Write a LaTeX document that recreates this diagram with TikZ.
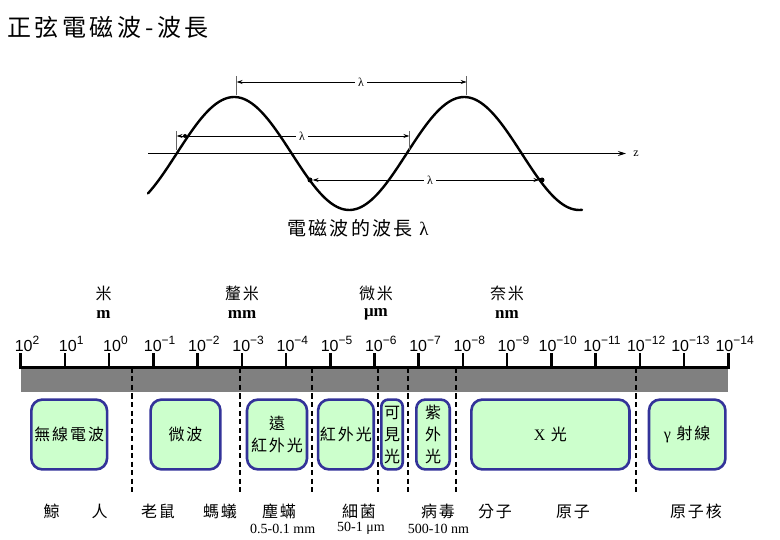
\documentclass[tikz,border=0pt]{standalone}
\usepackage{fontspec}
\setmainfont{Liberation Serif}
\newfontfamily\cjk[LetterSpace=12]{Noto Sans CJK TC}
\newfontfamily\cjktitle[LetterSpace=15]{Noto Sans CJK TC}
\newfontfamily\arial{Liberation Sans}
\usetikzlibrary{arrows.meta}
\definecolor{boxgreen}{RGB}{204,255,204}
\definecolor{boxblue}{RGB}{51,51,153}
\definecolor{bargray}{RGB}{128,128,128}
\tikzset{
  bandbox/.style={draw=boxblue, line width=2.6pt, fill=boxgreen, rounded corners=11pt,
    inner sep=0pt, align=center, minimum height=69.8pt, font=\cjk\fontsize{16}{22}\selectfont},
  dimline/.style={line width=0.7pt, -{Stealth[length=6pt,width=4pt]}},
  dimtick/.style={line width=0.7pt, black!60},
  lam/.style={font=\fontsize{12}{12}\selectfont, inner sep=3pt},
  sep/.style={line width=2.2pt, dash pattern=on 5pt off 3.5pt},
  cjklab/.style={font=\cjk\fontsize{16}{16}\selectfont, inner sep=0pt},
  unitlab/.style={font=\bfseries\fontsize{17}{17}\selectfont, inner sep=0pt},
  sizelab/.style={font=\fontsize{14}{14}\selectfont, inner sep=0pt},
  expo/.style={font=\arial\fontsize{16}{16}\selectfont, inner sep=0pt},
  dot/.style={circle, fill=black, inner sep=0pt, minimum size=5pt}
}
\begin{document}
\begin{tikzpicture}[x=1pt,y=-1pt]
\useasboundingbox (0,0) rectangle (780,540);

% title
\node[anchor=west, inner sep=0pt, font=\cjktitle\fontsize{24}{24}\selectfont] (title) at (7,27) {正弦電磁波-波長};

% wave
\coordinate (ax0) at (148,153.5);
\coordinate (ax1) at (626,153.5);
\draw[line width=1.1pt, -{Stealth[length=8pt,width=5pt]}] (ax0) -- (ax1);
\node[font=\fontsize{12}{12}\selectfont, inner sep=0pt] (zlab) at (636,153.5) {z};
\draw[line width=2.4pt, line cap=round, domain=148:582, samples=160, smooth, variable=\x]
  plot (\x, {153.5-56.5*sin(1.565217*(\x-176.7))});

% top dimension
\coordinate (t1a) at (236.7,76); \coordinate (t1b) at (236.7,95);
\coordinate (t2a) at (466.7,76); \coordinate (t2b) at (466.7,95);
\draw[dimtick] (t1a) -- (t1b);
\draw[dimtick] (t2a) -- (t2b);
\coordinate (d1l) at (236.7,82); \coordinate (d1r) at (466.7,82);
\node[lam] (l1) at (361,82) {λ};
\draw[dimline] (l1) -- (d1l);
\draw[dimline] (l1) -- (d1r);

% middle dimension
\coordinate (t3a) at (176.7,131); \coordinate (t3b) at (176.7,150);
\coordinate (t4a) at (409.3,131); \coordinate (t4b) at (409.3,150);
\draw[dimtick] (t3a) -- (t3b);
\draw[dimtick] (t4a) -- (t4b);
\coordinate (d2l) at (176.7,136); \coordinate (d2r) at (409.3,136);
\node[lam] (l2) at (302,136) {λ};
\draw[dimline] (l2) -- (d2l);
\draw[dimline] (l2) -- (d2r);
\node[dot, minimum size=4pt] (p0) at (185,136) {};

% bottom dimension
\node[dot] (p1) at (310,180) {};
\node[dot] (p2) at (542,180) {};
\node[lam] (l3) at (430,180) {λ};
\draw[dimline] (l3) -- (p1);
\draw[dimline] (l3) -- (p2);

% caption
\node[font=\cjk\fontsize{19}{19}\selectfont, inner sep=0pt] (cap) at (358,228) {電磁波的波長 {\rmfamily λ}};

% ruler
\fill[bargray] (20.7,368) rectangle (728.3,392.3);
\draw[line width=3pt] (19.2,368) -- (729.8,368);
\foreach \i in {0,...,16} {
  \draw[line width=2.6pt] ({20.7+44.225*\i},368) -- ({20.7+44.225*\i},353);
}
\foreach \e [count=\i from 0] in {2,1,0,−1,−2,−3,−4,−5,−6,−7,−8,−9,−10,−11,−12,−13,−14} {
  \node[expo] (e\i) at ({27+44.225*\i},344) {10\raisebox{0.42em}{\fontsize{12}{12}\selectfont\e}};
}

% unit labels
\node[cjklab] (u1) at (103.5,293) {米};
\node[unitlab] (m1) at (103.5,314) {m};
\node[cjklab] (u2) at (242,293) {釐米};
\node[unitlab] (m2) at (242,314) {mm};
\node[cjklab] (u3) at (376,293) {微米};
\node[unitlab] (m3) at (376,314) {μm};
\node[cjklab] (u4) at (507,293) {奈米};
\node[unitlab] (m4) at (507,314) {nm};

% separators
\foreach \x in {132,240,311.7,377.7,407.7,456,636} {
  \draw[sep] (\x,368) -- (\x,492);
}

% band boxes
\node[bandbox, minimum width=75.7pt] (b1) at (69.2,434.5) {無線電波};
\node[bandbox, minimum width=69.8pt] (b2) at (185.5,434.5) {微波};
\node[bandbox, minimum width=60pt] (b3) at (277,434.5) {遠\\紅外光};
\node[bandbox, minimum width=55.7pt] (b4) at (345.9,434.5) {紅外光};
\node[bandbox, minimum width=21.4pt, rounded corners=7pt] (b5) at (392,434.5) {可\\見\\光};
\node[bandbox, minimum width=33.4pt, rounded corners=9pt] (b6) at (433,434.5) {紫\\外\\光};
\node[bandbox, minimum width=158.1pt] (b7) at (550.4,434.5) {{\rmfamily X} 光};
\node[bandbox, minimum width=76.4pt] (b8) at (687.2,434.5) {{\rmfamily γ} 射線};

% bottom labels
\node[cjklab] (o1) at (51.7,511.7) {鯨};
\node[cjklab] (o2) at (99.5,511.7) {人};
\node[cjklab] (o3) at (158,511.7) {老鼠};
\node[cjklab] (o4) at (220,511.7) {螞蟻};
\node[cjklab] (o5) at (279,511.7) {塵蟎};
\node[sizelab] (s5) at (282.7,528.5) {0.5-0.1 mm};
\node[cjklab] (o6) at (359,511.7) {細菌};
\node[sizelab] (s6) at (361,528.5) {50-1 μm};
\node[cjklab] (o7) at (438,511.7) {病毒};
\node[sizelab] (s7) at (438.5,528.5) {500-10 nm};
\node[cjklab] (o8) at (495,511.7) {分子};
\node[cjklab] (o9) at (573,511.7) {原子};
\node[cjklab] (o10) at (696,511.7) {原子核};
\end{tikzpicture}
\end{document}
